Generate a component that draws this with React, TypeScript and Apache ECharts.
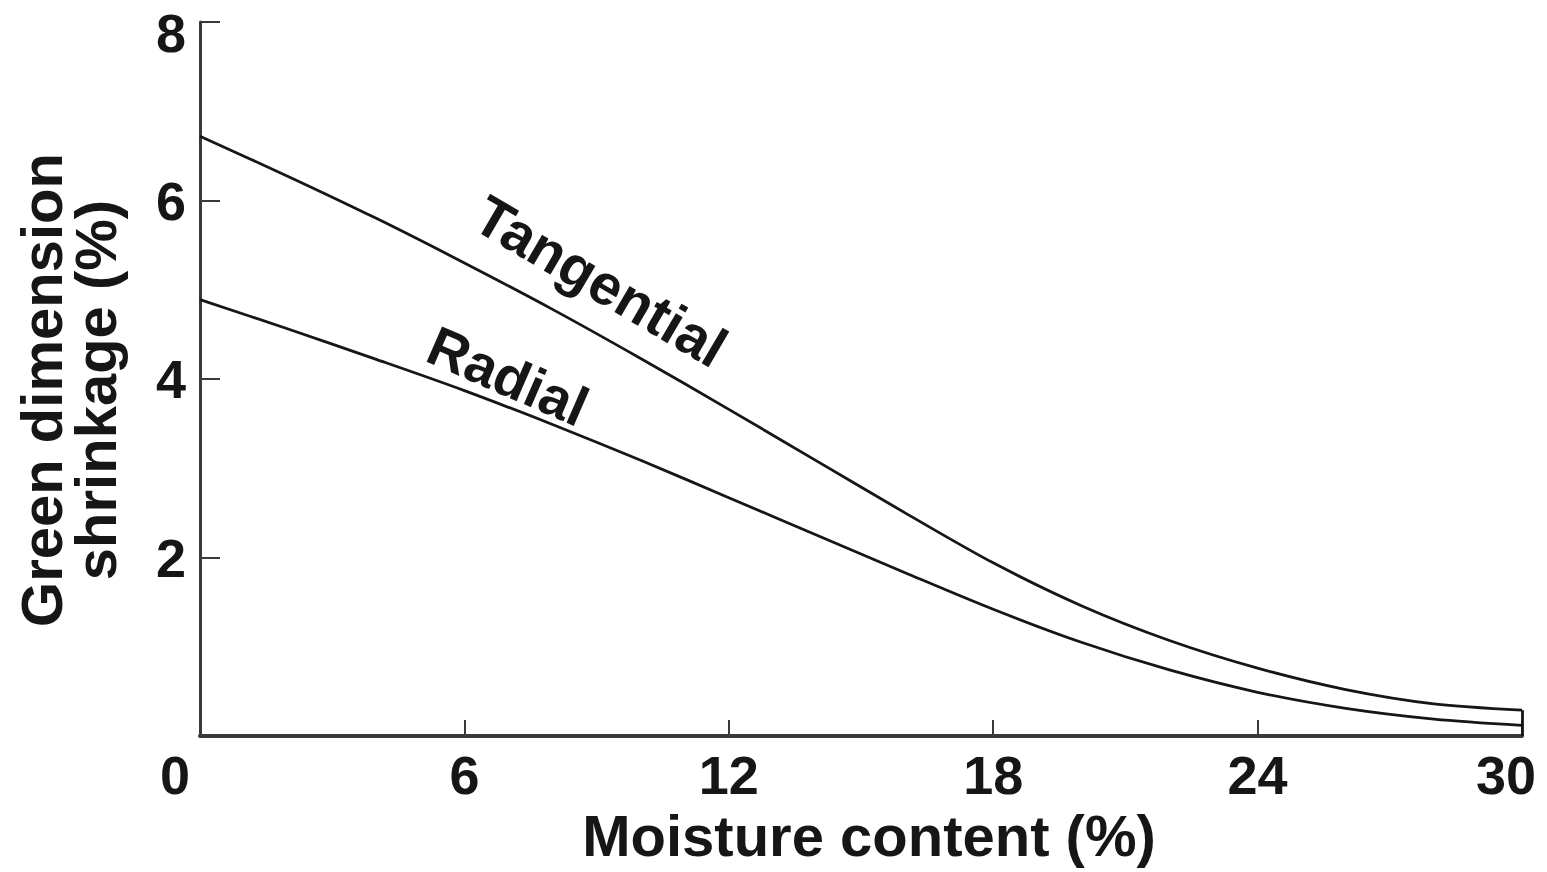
import React, { useEffect, useRef } from "react";
import * as echarts from "echarts";

const moisture = [0, 2, 4, 6, 8, 10, 12, 14, 16, 18, 20, 22, 24, 26, 28, 30];
const tangential = [6.72, 6.27, 5.8, 5.3, 4.78, 4.23, 3.66, 3.08, 2.5, 1.94, 1.46, 1.07, 0.76, 0.52, 0.36, 0.29];
const radial = [4.89, 4.56, 4.22, 3.87, 3.49, 3.09, 2.67, 2.25, 1.83, 1.42, 1.05, 0.74, 0.49, 0.31, 0.19, 0.12];
const xTicks = [0, 6, 12, 18, 24, 30];
const yTicks = [0, 2, 4, 6, 8];
const curveLabels = ["Tangential", "Radial"];

const FONT = "'Liberation Sans', Arial, Helvetica, sans-serif";
const INK = "#161616";

export default function App() {
  const ref = useRef<HTMLDivElement>(null);

  useEffect(() => {
    if (!ref.current) return;
    const chart = echarts.init(ref.current, undefined, { renderer: "svg" });
    const tangData = moisture.map((x, i) => [x, tangential[i]]);
    const radData = moisture.map((x, i) => [x, radial[i]]);
    const lastX = moisture[moisture.length - 1];
    const lastT = tangential[tangential.length - 1];
    const yMax = yTicks[yTicks.length - 1];

    chart.setOption({
      animation: false,
      backgroundColor: "#ffffff",
      grid: { left: 200, right: 25, top: 22, bottom: 136, containLabel: false, outerBoundsMode: "none" },
      xAxis: {
        type: "value",
        min: xTicks[0],
        max: xTicks[xTicks.length - 1],
        interval: xTicks[1] - xTicks[0],
        name: "Moisture content (%)",
        nameLocation: "middle",
        nameGap: 66,
        nameTextStyle: {
          fontFamily: FONT,
          fontWeight: "bold",
          fontSize: 58,
          color: INK,
          padding: [0, 0, 0, 16],
        },
        axisLine: { show: true, onZero: false, lineStyle: { color: "#3a3a3a", width: 4 } },
        axisTick: { show: true, inside: true, length: 16, lineStyle: { color: "#3a3a3a", width: 2 } },
        axisLabel: {
          margin: 12,
          fontFamily: FONT,
          fontWeight: "bold",
          fontSize: 54,
          color: INK,
          formatter: (v: number) => {
            if (v === xTicks[0]) return "{zero|" + v + "}";
            if (v === xTicks[xTicks.length - 1]) return "{end|" + v + "}";
            return String(v);
          },
          rich: {
            zero: { fontFamily: FONT, fontWeight: "bold", fontSize: 54, color: INK, padding: [0, 50, 0, 0] },
            end: { fontFamily: FONT, fontWeight: "bold", fontSize: 54, color: INK, padding: [0, 32, 0, 0] },
          },
        },
        splitLine: { show: false },
      },
      yAxis: {
        type: "value",
        min: yTicks[0],
        max: yMax,
        interval: yTicks[1] - yTicks[0],
        name: "Green dimension\nshrinkage (%)",
        nameLocation: "middle",
        nameGap: 78,
        nameTextStyle: {
          fontFamily: FONT,
          fontWeight: "bold",
          fontSize: 58,
          lineHeight: 54,
          color: INK,
          padding: [0, 22, 0, 0],
        },
        axisLine: { show: true, onZero: false, lineStyle: { color: "#3a3a3a", width: 3 } },
        axisTick: { show: true, inside: true, length: 20, lineStyle: { color: "#3a3a3a", width: 2 } },
        axisLabel: {
          margin: 14,
          fontFamily: FONT,
          fontWeight: "bold",
          fontSize: 54,
          lineHeight: 44,
          color: INK,
          formatter: (v: number) => {
            if (v === yTicks[0]) return "";
            if (v === yMax) return "{top|" + v + "}";
            return String(v);
          },
          rich: {
            top: { fontFamily: FONT, fontWeight: "bold", fontSize: 54, lineHeight: 44, color: INK, padding: [22, 0, 0, 0] },
          },
        },
        splitLine: { show: false },
      },
      series: [
        {
          name: curveLabels[0],
          type: "line",
          data: tangData,
          smooth: 0.3,
          showSymbol: false,
          symbol: "none",
          lineStyle: { color: INK, width: 2.8 },
          markLine: {
            silent: true,
            symbol: "none",
            label: { show: false },
            lineStyle: { color: INK, width: 2.8, type: "solid" },
            data: [[{ coord: [lastX, 0] }, { coord: [lastX, lastT] }]],
          },
        },
        {
          name: curveLabels[1],
          type: "line",
          data: radData,
          smooth: 0.3,
          showSymbol: false,
          symbol: "none",
          lineStyle: { color: INK, width: 2.8 },
        },
      ],
      graphic: [
        {
          type: "text",
          x: 601,
          y: 281,
          rotation: -0.53,
          style: {
            text: curveLabels[0],
            fontFamily: FONT,
            fontWeight: "bold",
            fontSize: 57,
            fill: INK,
            align: "center",
            verticalAlign: "middle",
          },
        },
        {
          type: "text",
          x: 508,
          y: 376,
          rotation: -0.41,
          style: {
            text: curveLabels[1],
            fontFamily: FONT,
            fontWeight: "bold",
            fontSize: 56,
            fill: INK,
            align: "center",
            verticalAlign: "middle",
          },
        },
      ],
    });

    return () => chart.dispose();
  }, []);

  return (
    <div
      ref={ref}
      style={{ position: "fixed", left: 0, top: 0, width: 1547, height: 872, background: "#fff" }}
    />
  );
}
